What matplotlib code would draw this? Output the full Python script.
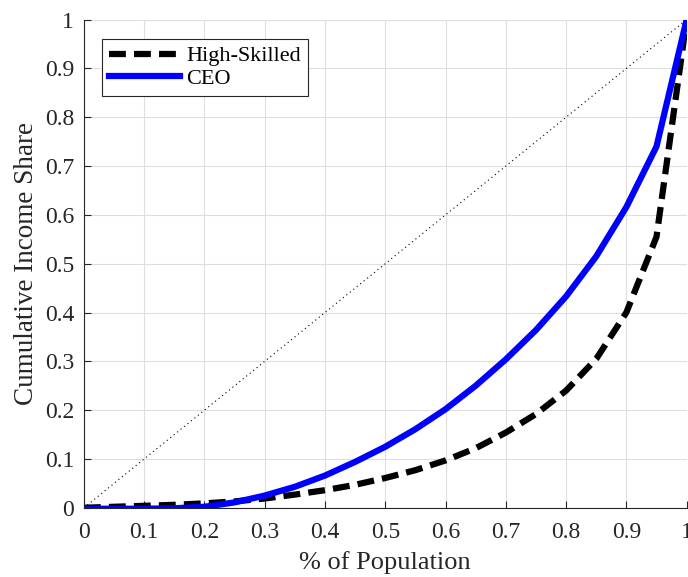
import matplotlib
matplotlib.use("Agg")
import matplotlib.pyplot as plt
import numpy as np

# population share (x) and cumulative income share for each group
pop = [0.0, 0.05, 0.1, 0.15, 0.2, 0.25, 0.3, 0.35, 0.4, 0.45, 0.5,
       0.55, 0.6, 0.65, 0.7, 0.75, 0.8, 0.85, 0.9, 0.95, 1.0]
high_skilled = [0.0, 0.002, 0.004, 0.006, 0.009, 0.013, 0.019, 0.027, 0.036, 0.047, 0.061,
                0.077, 0.097, 0.122, 0.154, 0.192, 0.24, 0.305, 0.40, 0.555, 1.0]
ceo = [-0.002, -0.002, -0.002, -0.001, 0.002, 0.011, 0.025, 0.043, 0.066, 0.094, 0.125,
       0.161, 0.202, 0.25, 0.304, 0.364, 0.433, 0.515, 0.616, 0.74, 1.0]
ticks = [0, 0.1, 0.2, 0.3, 0.4, 0.5, 0.6, 0.7, 0.8, 0.9, 1]
tick_labels = ['0', '0.1', '0.2', '0.3', '0.4', '0.5', '0.6', '0.7', '0.8', '0.9', '1']

plt.rcParams['font.family'] = ['Liberation Serif', 'DejaVu Serif']
txt = '#262626'

fig = plt.figure(figsize=(6.88, 5.77), dpi=100)
ax = fig.add_axes([0.122, 0.12, 0.876, 0.846])

ax.plot([0, 1], [0, 1], color='black', lw=0.8, ls=(0, (1, 3)))
ax.plot(pop, high_skilled, color='black', lw=4.5, ls=(0, (2.7, 1.3)), label='High-Skilled',
        solid_capstyle='butt', dash_capstyle='butt')
ax.plot(pop, ceo, color='#0000ff', lw=4.5, label='CEO')

ax.set_xlim(0, 1)
ax.set_ylim(0, 1)
ax.set_xticks(ticks)
ax.set_xticklabels(tick_labels)
ax.set_yticks(ticks)
ax.set_yticklabels(tick_labels)
ax.tick_params(direction='in', length=5, width=0.8, colors=txt, labelsize=17)
ax.tick_params(axis='x', pad=10)
ax.tick_params(axis='y', pad=7)
ax.grid(True, color='#dedede', lw=0.8)
ax.set_axisbelow(True)
for s in ['top', 'right']:
    ax.spines[s].set_visible(False)
for s in ['left', 'bottom']:
    ax.spines[s].set_color(txt)
    ax.spines[s].set_linewidth(0.8)

ax.set_xlabel('% of Population', fontsize=19, color=txt, labelpad=6)
ax.set_ylabel('Cumulative Income Share', fontsize=19.5, color=txt, labelpad=4)

leg = ax.legend(loc='upper left', bbox_to_anchor=(0.03, 0.96), fontsize=16, frameon=True,
                fancybox=False, edgecolor=txt, framealpha=1, handlelength=3.2,
                borderpad=0.3, labelspacing=0.1, handletextpad=0.3, borderaxespad=0)
leg.get_frame().set_linewidth(0.8)

fig.savefig('out.png', dpi=100)
